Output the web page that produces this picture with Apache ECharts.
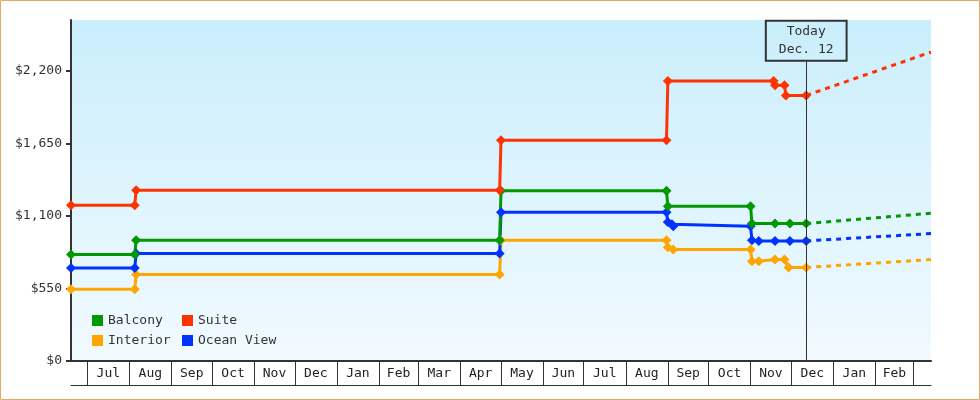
<!DOCTYPE html>
<html><head><meta charset="utf-8">
<script src="https://cdn.jsdelivr.net/npm/echarts@6/dist/echarts.min.js"></script>
<style>html,body{margin:0;padding:0;background:#fff}#c{width:980px;height:400px}</style>
</head><body><div id="c"></div>
<script>
// ---------- data ----------
const xMin = '2023-06-19';
const xMax = '2025-03-14';
const today = '2024-12-12';
const todayLabel = ['Today', 'Dec. 12'];
const monthStarts = ['2023-07-01','2023-08-01','2023-09-01','2023-10-01','2023-11-01','2023-12-01',
  '2024-01-01','2024-02-01','2024-03-01','2024-04-01','2024-05-01','2024-06-01','2024-07-01',
  '2024-08-01','2024-09-01','2024-10-01','2024-11-01','2024-12-01','2025-01-01','2025-02-01','2025-03-01'];
const monthLabels = ['Jul','Aug','Sep','Oct','Nov','Dec','Jan','Feb','Mar','Apr','May','Jun',
  'Jul','Aug','Sep','Oct','Nov','Dec','Jan','Feb'];
const yTicks = [0, 550, 1100, 1650, 2200];
const yMax = 2585;
const todayBoxBottom = 2276;

const suite = [['2023-06-19',1181],['2023-08-05',1181],['2023-08-06',1295],['2024-04-30',1295],
  ['2024-05-01',1674],['2024-08-31',1674],['2024-09-01',2122],['2024-11-18',2122],['2024-11-19',2091],
  ['2024-11-26',2091],['2024-11-27',2013],['2024-12-12',2013]];
const balcony = [['2023-06-19',807],['2023-08-05',807],['2023-08-06',916],['2024-04-30',916],
  ['2024-05-01',1290],['2024-08-31',1290],['2024-09-01',1174],['2024-11-01',1174],['2024-11-02',1042],
  ['2024-11-19',1042],['2024-11-30',1042],['2024-12-12',1042]];
const oceanView = [['2023-06-19',705],['2023-08-05',705],['2023-08-06',815],['2024-04-30',815],
  ['2024-05-01',1128],['2024-08-31',1128],['2024-09-01',1054],['2024-09-04',1037],['2024-09-05',1022],
  ['2024-11-01',1022],['2024-11-02',915],['2024-11-07',910],['2024-11-19',910],['2024-11-30',910],['2024-12-12',910]];
const interior = [['2023-06-19',544],['2023-08-05',544],['2023-08-06',655],['2024-04-30',655],
  ['2024-05-01',916],['2024-08-31',916],['2024-09-01',862],['2024-09-05',845],['2024-11-01',845],
  ['2024-11-02',756],['2024-11-07',756],['2024-11-19',769],['2024-11-26',769],['2024-11-29',709],['2024-12-12',709]];
const forecastEnd = { suite: 2342, balcony: 1120, oceanView: 966, interior: 769 };

// ---------- chart ----------
const FONT = 'DejaVu Sans Mono';
const INK = '#333';
const COLORS = { Balcony:'#009900', Suite:'#ff3300', Interior:'#ffa500', 'Ocean View':'#0033ff' };
const ts = s => { const [y,m,d] = s.split('-').map(Number); return Date.UTC(y, m-1, d); };
const pts = arr => arr.map(([d, v]) => [ts(d), v]);
const tickVals = monthStarts.map(ts);
const mids = monthLabels.map((_, i) => (tickVals[i] + tickVals[i+1]) / 2);
const labelFor = v => { let best = -1, bd = Infinity; mids.forEach((m,i)=>{const d=Math.abs(m-v); if(d<bd){bd=d;best=i;}}); return bd < 86400000 ? monthLabels[best] : ''; };

function stepSeries(name, data, extra) {
  const c = COLORS[name];
  return Object.assign({
    type:'line', name, data:pts(data), color:c, symbol:'diamond', symbolSize:10,
    lineStyle:{ width:3, color:c }, itemStyle:{ color:c }, animation:false, silent:true
  }, extra || {});
}
function forecast(name, data, endVal) {
  const c = COLORS[name];
  const last = data[data.length-1];
  return { type:'line', name: name + ' forecast', data:pts([[last[0], last[1]], [xMax, endVal]]), symbol:'none',
    lineStyle:{ width:3, color:c, type:[5,5] }, itemStyle:{color:c}, animation:false, silent:true };
}

const legendCommon = { orient:'vertical', top:314, itemWidth:11, itemHeight:11, itemGap:7, icon:'rect', padding:0,
  textStyle:{ fontFamily:FONT, fontSize:13, color:INK }, selectedMode:false };

const chart = echarts.init(document.getElementById('c'), null, { renderer:'canvas' });
chart.setOption({
  animation:false,
  graphic:[{ type:'rect', shape:{ x:0.5, y:0.5, width:979, height:399 }, style:{ fill:'none', stroke:'#e9a964', lineWidth:1 }, silent:true, z:100 }],
  grid:{ left:71, right:49, top:20, bottom:39, show:true, borderWidth:0,
    backgroundColor: new echarts.graphic.LinearGradient(0,0,0,1,[{offset:0,color:'#caeefc'},{offset:1,color:'#f1faff'}]) },
  legend:[
    Object.assign({ left:92, data:['Balcony','Interior'] }, legendCommon),
    Object.assign({ left:182, data:['Suite','Ocean View'] }, legendCommon)
  ],
  xAxis:[{
    type:'value', min:ts(xMin), max:ts(xMax), scale:true,
    axisLine:{ show:true, onZero:false, lineStyle:{ color:INK, width:2 } },
    axisTick:{ show:true, customValues:tickVals, length:24, inside:false, lineStyle:{ color:INK, width:1 } },
    axisLabel:{ customValues:mids, formatter:labelFor, margin:6, color:'#222', fontFamily:FONT, fontSize:13 },
    splitLine:{ show:false }
  },{
    type:'value', min:ts(xMin), max:ts(xMax), scale:true, position:'bottom', offset:24,
    axisLine:{ show:true, onZero:false, lineStyle:{ color:INK, width:1 } },
    axisTick:{ show:false }, axisLabel:{ show:false }, splitLine:{ show:false }
  }],
  yAxis:{
    type:'value', min:0, max:yMax,
    axisLine:{ show:true, onZero:false, lineStyle:{ color:INK, width:2 } },
    axisTick:{ show:true, customValues:yTicks, length:5, lineStyle:{ color:INK, width:2 } },
    axisLabel:{ customValues:yTicks, formatter:v => '$' + Number(v).toLocaleString('en-US'), margin:9, color:INK, fontFamily:FONT, fontSize:13 },
    splitLine:{ show:false }
  },
  series:[
    forecast('Interior', interior, forecastEnd.interior),
    forecast('Ocean View', oceanView, forecastEnd.oceanView),
    forecast('Balcony', balcony, forecastEnd.balcony),
    forecast('Suite', suite, forecastEnd.suite),
    stepSeries('Interior', interior),
    stepSeries('Ocean View', oceanView),
    stepSeries('Balcony', balcony),
    stepSeries('Suite', suite, {
      markLine:{ silent:true, symbol:['none','none'], animation:false,
        lineStyle:{ color:INK, width:1, type:'solid' },
        label:{ show:true, position:'end', distance:0, formatter: todayLabel.join('\n'),
          color:INK, fontFamily:FONT, fontSize:13, lineHeight:18, borderColor:INK, borderWidth:1,
          padding:[2,13,2,13], backgroundColor:'rgba(0,0,0,0)' },
        emphasis:{ disabled:true },
        data:[[{ coord:[ts(today), 0] }, { coord:[ts(today), todayBoxBottom] }]]
      }
    })
  ]
});
</script></body></html>
